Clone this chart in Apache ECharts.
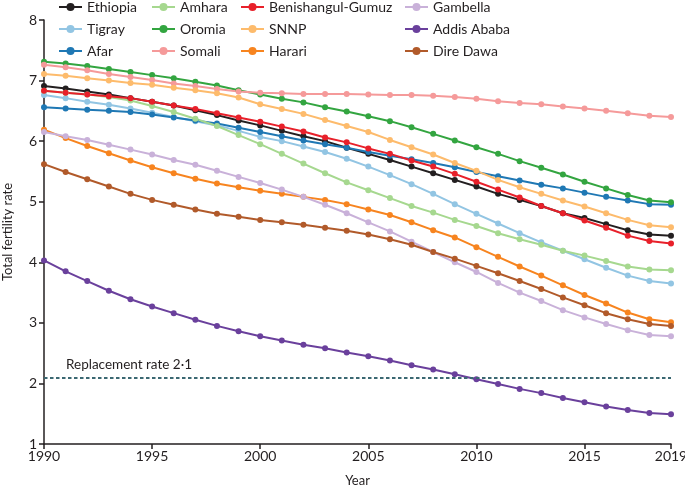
<!DOCTYPE html>
<html>
<head>
<meta charset="utf-8">
<script src="https://cdn.jsdelivr.net/npm/echarts@6/dist/echarts.min.js"></script>
<style>html,body{margin:0;padding:0;background:#fff}#chart{width:685px;height:488px}</style>
</head>
<body>
<div id="chart"></div>
<script>
const years = [1990,1991,1992,1993,1994,1995,1996,1997,1998,1999,2000,2001,2002,2003,2004,2005,2006,2007,2008,2009,2010,2011,2012,2013,2014,2015,2016,2017,2018,2019];

const ethiopia = [6.91,6.87,6.82,6.77,6.71,6.65,6.59,6.51,6.43,6.34,6.26,6.17,6.08,6.00,5.89,5.79,5.69,5.58,5.47,5.36,5.25,5.13,5.03,4.93,4.81,4.73,4.63,4.53,4.46,4.44];
const tigray = [6.76,6.71,6.65,6.60,6.54,6.47,6.40,6.33,6.26,6.17,6.07,6.00,5.91,5.82,5.71,5.58,5.44,5.29,5.13,4.96,4.80,4.64,4.48,4.33,4.19,4.05,3.91,3.78,3.69,3.65];
const afar = [6.56,6.54,6.52,6.50,6.48,6.44,6.39,6.34,6.29,6.22,6.15,6.08,6.01,5.95,5.89,5.82,5.76,5.70,5.64,5.57,5.49,5.42,5.35,5.28,5.22,5.15,5.08,5.02,4.96,4.95];
const amhara = [6.83,6.80,6.77,6.73,6.67,6.58,6.48,6.37,6.25,6.10,5.95,5.79,5.63,5.47,5.32,5.19,5.06,4.93,4.82,4.70,4.60,4.48,4.38,4.29,4.19,4.11,4.02,3.93,3.88,3.87];
const oromia = [7.31,7.28,7.24,7.19,7.14,7.09,7.04,6.98,6.92,6.84,6.77,6.70,6.64,6.56,6.49,6.41,6.33,6.23,6.12,6.01,5.90,5.79,5.67,5.56,5.45,5.33,5.22,5.11,5.02,4.99];
const somali = [7.26,7.22,7.17,7.11,7.06,7.01,6.95,6.91,6.86,6.82,6.80,6.79,6.78,6.78,6.78,6.77,6.76,6.76,6.75,6.73,6.70,6.66,6.63,6.61,6.57,6.54,6.50,6.46,6.42,6.40];
const benishangul = [6.83,6.80,6.77,6.74,6.71,6.65,6.59,6.53,6.46,6.39,6.32,6.24,6.16,6.06,5.98,5.88,5.79,5.68,5.58,5.46,5.33,5.20,5.07,4.93,4.81,4.69,4.57,4.44,4.35,4.31];
const snnp = [7.11,7.08,7.04,7.00,6.96,6.93,6.88,6.84,6.79,6.72,6.61,6.53,6.45,6.35,6.25,6.15,6.02,5.90,5.78,5.64,5.51,5.36,5.24,5.13,5.02,4.92,4.81,4.70,4.61,4.58];
const harari = [6.19,6.05,5.92,5.80,5.68,5.57,5.47,5.38,5.30,5.24,5.18,5.13,5.08,5.03,4.96,4.87,4.78,4.66,4.53,4.41,4.25,4.09,3.93,3.78,3.62,3.46,3.32,3.17,3.06,3.01];
const gambella = [6.15,6.08,6.02,5.94,5.86,5.78,5.69,5.61,5.51,5.41,5.31,5.20,5.08,4.95,4.81,4.66,4.51,4.34,4.17,4.00,3.84,3.66,3.50,3.36,3.21,3.09,2.98,2.88,2.80,2.78];
const addisAbaba = [4.03,3.85,3.69,3.53,3.39,3.27,3.16,3.05,2.95,2.86,2.78,2.71,2.64,2.58,2.51,2.45,2.38,2.30,2.23,2.15,2.07,1.99,1.91,1.84,1.76,1.69,1.62,1.56,1.51,1.49];
const direDawa = [5.62,5.49,5.37,5.25,5.13,5.03,4.95,4.87,4.80,4.75,4.70,4.66,4.62,4.57,4.52,4.46,4.38,4.29,4.17,4.06,3.94,3.82,3.69,3.56,3.42,3.29,3.16,3.06,2.98,2.95];

const replacementRate = 2.1;
const replacementLabel = 'Replacement rate 2·1';
const yTicks = [1,2,3,4,5,6,7,8];

const seriesDefs = [
  ['Ethiopia', ethiopia, '#231f20'],
  ['Tigray', tigray, '#92c5e3'],
  ['Afar', afar, '#1f78b4'],
  ['Amhara', amhara, '#a6d88f'],
  ['Oromia', oromia, '#33a540'],
  ['Somali', somali, '#f59a9a'],
  ['Benishangul-Gumuz', benishangul, '#e8202a'],
  ['SNNP', snnp, '#fdbb6c'],
  ['Harari', harari, '#f7841f'],
  ['Gambella', gambella, '#c9b1d9'],
  ['Addis Ababa', addisAbaba, '#6a409c'],
  ['Dire Dawa', direDawa, '#b15a2a']
];

const FONT = 'Lato';
const TXT = '#231f20';

const series = seriesDefs.map(([name, vals, color], i) => {
  const s = {
    name, type: 'line',
    data: years.map((y, k) => [y, vals[k]]),
    symbol: 'circle', symbolSize: 6,
    lineStyle: { width: 2, color },
    itemStyle: { color },
    emphasis: { disabled: true },
    animation: false,
    z: 3
  };
  if (i === 0) {
    s.markLine = {
      silent: true, symbol: 'none', animation: false,
      lineStyle: { type: [3.5, 2.5], color: '#3b6872', width: 2 },
      label: { show: true, position: 'insideStartTop', formatter: replacementLabel,
               color: TXT, fontFamily: FONT, fontSize: 13.5, distance: [22, 6] },
      data: [{ yAxis: replacementRate }]
    };
  }
  return s;
});

const colNames = [
  ['Ethiopia','Tigray','Afar'],
  ['Amhara','Oromia','Somali'],
  ['Benishangul-Gumuz','SNNP','Harari'],
  ['Gambella','Addis Ababa','Dire Dawa']
];
const colLeft = [58, 151, 240, 404];
const legends = colNames.map((names, i) => ({
  data: names, left: colLeft[i], top: 0, orient: 'vertical',
  itemWidth: 23, itemHeight: 10, itemGap: 8, padding: 0,
  selectedMode: false,
  textStyle: { fontFamily: FONT, fontSize: 14, color: TXT }
}));

const chart = echarts.init(document.getElementById('chart'), null, { renderer: 'canvas' });
chart.setOption({
  animation: false,
  backgroundColor: '#fff',
  legend: legends,
  grid: { left: 44, right: 14, top: 20, bottom: 44, containLabel: false, outerBoundsMode: 'none' },
  xAxis: {
    type: 'value', min: 1990, max: 2019, interval: 5,
    name: 'Year', nameLocation: 'middle', nameGap: 30,
    nameTextStyle: { fontFamily: FONT, fontSize: 13, color: TXT },
    axisLine: { show: true, lineStyle: { color: TXT, width: 1.5 } },
    axisTick: { show: true, length: 5, lineStyle: { color: TXT, width: 1.5 } },
    axisLabel: { fontFamily: FONT, fontSize: 14, color: TXT, margin: 5, formatter: v => String(v), showMaxLabel: true },
    splitLine: { show: false }
  },
  yAxis: {
    type: 'value', min: yTicks[0], max: yTicks[yTicks.length-1], interval: 1,
    name: 'Total fertility rate', nameLocation: 'middle', nameGap: 30,
    nameTextStyle: { fontFamily: FONT, fontSize: 13, color: TXT },
    axisLine: { show: true, lineStyle: { color: TXT, width: 1.5 } },
    axisTick: { show: true, length: 5, lineStyle: { color: TXT, width: 1.5 } },
    axisLabel: { fontFamily: FONT, fontSize: 14, color: TXT, margin: 7 },
    splitLine: { show: false }
  },
  series
});
</script>
</body>
</html>
